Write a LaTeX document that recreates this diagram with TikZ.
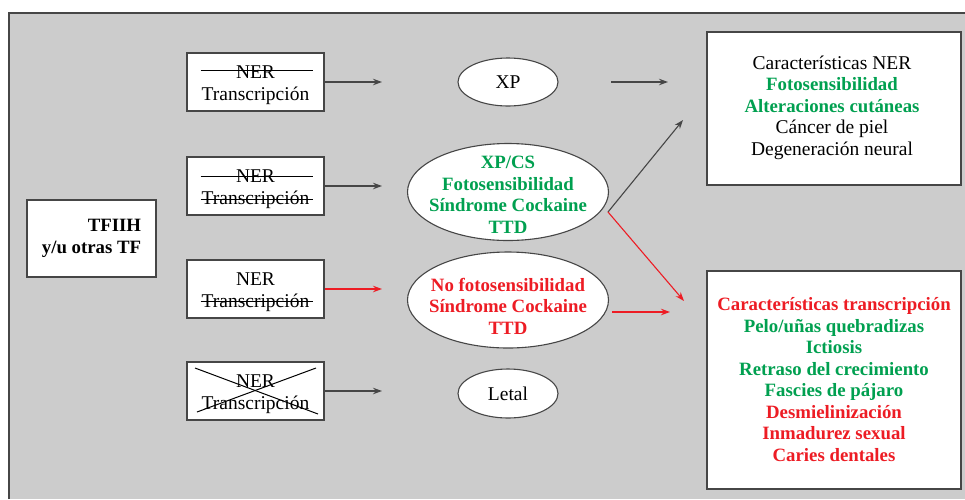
\documentclass[tikz,border=0pt]{standalone}
\usepackage{fontspec}
\setmainfont{Liberation Serif}
\usetikzlibrary{shapes.geometric,arrows.meta,calc}
\definecolor{bgg}{RGB}{204,204,204}
\definecolor{grn}{RGB}{0,160,80}
\definecolor{rd}{RGB}{237,28,36}
\definecolor{edge}{RGB}{70,70,70}
\newcommand\regf{\fontsize{19.5}{21.5}\selectfont}
\newcommand\bldf{\fontsize{18.8}{21.5}\selectfont\bfseries}
\newcommand\grnb[1]{{\bldf\color{grn}#1}}
\newcommand\redb[1]{{\bldf\color{rd}#1}}
\begin{document}
\begin{tikzpicture}[x=1pt,y=-1pt,
  box/.style={draw=edge,fill=white,line width=1.1pt,inner sep=0pt,align=center,font=\regf},
  btext/.style={align=center,font=\regf,inner sep=0pt},
  ell/.style={ellipse,draw=edge,fill=white,line width=1.1pt,inner sep=0pt},
  etext/.style={align=center,font=\bldf,inner sep=0pt},
  arr/.style={draw=edge,line width=1.1pt,-{Stealth[length=9pt,width=6.5pt]}},
  rarr/.style={draw=rd,line width=1.1pt,-{Stealth[length=9pt,width=6.5pt]}},
  strk/.style={draw=black,line width=1pt}]
\useasboundingbox (0,0) rectangle (965,499);
\fill[white] (0,0) rectangle (965,499);
\fill[bgg] (9,13) rectangle (965,499);
\draw[edge,line width=1.6pt] (9,499) -- (9,13) -- (965,13);

% left box
\node[box,minimum width=129pt,minimum height=77pt,align=right,font=\bldf] (tf) at (91.5,238.5) {TFIIH\\y/u otras TF};

% middle boxes
\node[box,minimum width=137pt,minimum height=58pt] (b1) at (255.5,82) {};
\node[box,minimum width=137pt,minimum height=58pt] (b2) at (255.5,186) {};
\node[box,minimum width=137pt,minimum height=58pt] (b3) at (255.5,289) {};
\node[box,minimum width=137pt,minimum height=58pt] (b4) at (255.5,391) {};
\node[btext] (b1t) at (255.5,85) {NER\\Transcripción};
\node[btext] (b2t) at (255.5,189) {NER\\Transcripción};
\node[btext] (b3t) at (255.5,292) {NER\\Transcripción};
\node[btext] (b4t) at (255.5,394) {NER\\Transcripción};

% strike lines
\draw[strk] ($(b1.center)+(-55,-12)$) -- ($(b1.center)+(57,-12)$);
\draw[strk] ($(b2.center)+(-55,-9.5)$) -- ($(b2.center)+(57,-9.5)$);
\draw[strk] ($(b2.center)+(-55,13)$) -- ($(b2.center)+(57,13)$);
\draw[strk] ($(b3.center)+(-55,12.5)$) -- ($(b3.center)+(57,12.5)$);
\draw[strk] ($(b4.center)+(-60.5,-23)$) -- ($(b4.center)+(62.5,23)$);
\draw[strk] ($(b4.center)+(-58.5,21)$) -- ($(b4.center)+(60.5,-23)$);

% ellipses
\node[ell,minimum width=100pt,minimum height=48pt,font=\regf] (xp) at (508,82) {XP};
\node[ell,minimum width=201pt,minimum height=97pt] (xpcs) at (508,192) {};
\node[etext,text=grn] (xpcst) at (508,195) {XP/CS\\Fotosensibilidad\\Síndrome Cockaine\\TTD};
\node[ell,minimum width=201pt,minimum height=96pt] (nof) at (508,300) {};
\node[etext,text=rd] (noft) at (508,306) {No fotosensibilidad\\Síndrome Cockaine\\TTD};
\node[ell,minimum width=100pt,minimum height=49pt,font=\regf] (let) at (508,393.5) {Letal};

% right boxes
\node[box,minimum width=254pt,minimum height=153pt] (r1) at (834,108.5) {};
\node[align=center,font=\regf,inner sep=0pt] (r1t) at (832,107.5) {Características NER\\\grnb{Fotosensibilidad}\\\grnb{Alteraciones cutáneas}\\Cáncer de piel\\Degeneración neural};
\node[box,minimum width=254pt,minimum height=218pt] (r2) at (834,380) {};
\node[align=center,font=\bldf,inner sep=0pt] (r2t) at (834,379.5) {\redb{Características transcripción}\\\grnb{Pelo/uñas quebradizas}\\\grnb{Ictiosis}\\\grnb{Retraso del crecimiento}\\\grnb{Fascies de pájaro}\\\redb{Desmielinización}\\\redb{Inmadurez sexual}\\\redb{Caries dentales}};

% coordinates
\coordinate (t1) at (382,82);
\coordinate (t2) at (382,186);
\coordinate (t3) at (382,289);
\coordinate (t4) at (382,391);
\coordinate (s1) at (611,82);
\coordinate (e1) at (668,82);
\coordinate (f) at (608,212);
\coordinate (e2) at (683,120);
\coordinate (e3) at (684,301);
\coordinate (s4) at (612,312);
\coordinate (e4) at (670,312);

% arrows
\draw[arr] (b1.east) -- (t1);
\draw[arr] (b2.east) -- (t2);
\draw[rarr] (b3.east) -- (t3);
\draw[arr] (b4.east) -- (t4);
\draw[arr] (s1) -- (e1);
\draw[arr] (f) -- (e2);
\draw[rarr] (f) -- (e3);
\draw[rarr] (s4) -- (e4);
\end{tikzpicture}
\end{document}
